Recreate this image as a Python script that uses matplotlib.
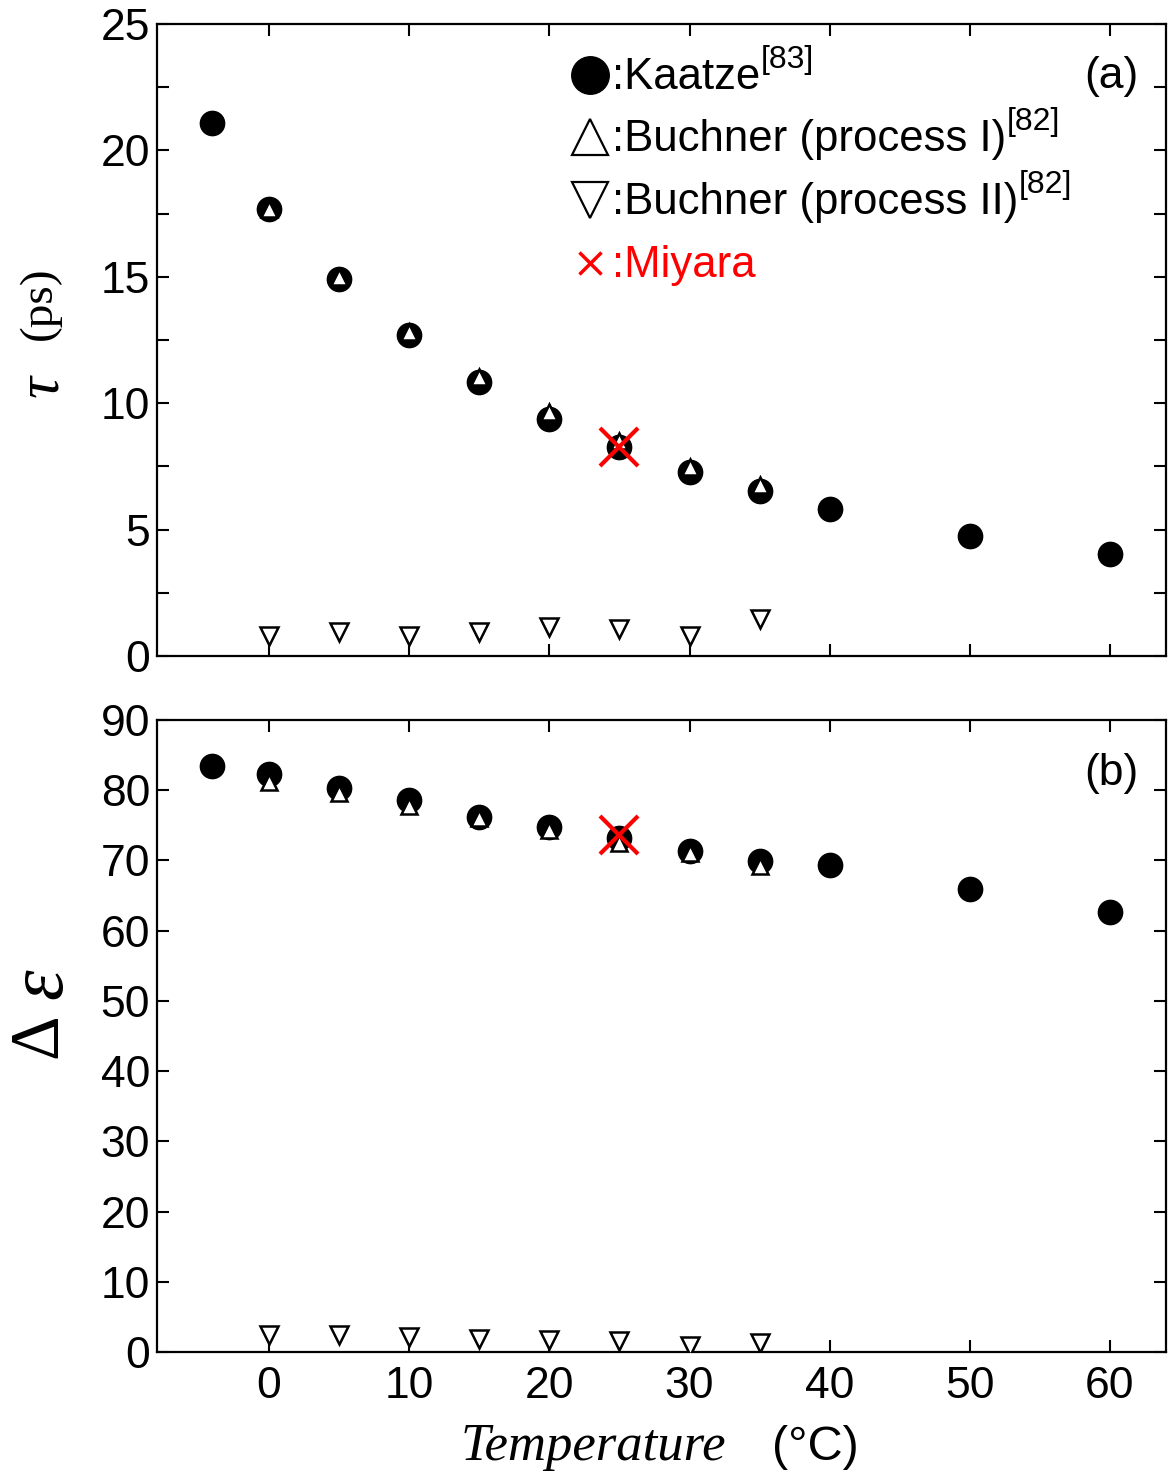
import matplotlib
matplotlib.use("Agg")
import matplotlib.pyplot as plt
import numpy as np

plt.rcParams['font.family'] = ['Liberation Sans', 'DejaVu Sans']

# ---------------- data ----------------
kaatze_T = [-4.1, 0, 5, 10, 15, 20, 25, 30, 35, 40, 50, 60]
kaatze_tau = [21.1, 17.68, 14.92, 12.68, 10.85, 9.38, 8.28, 7.29, 6.53, 5.82, 4.76, 4.05]
kaatze_de = [83.4, 82.3, 80.3, 78.6, 76.2, 74.8, 73.2, 71.3, 69.9, 69.4, 65.9, 62.7]

buch_T = [0, 5, 10, 15, 20, 25, 30, 35]
buch1_tau = [17.7, 15.0, 12.8, 11.05, 9.65, 8.5, 7.48, 6.78]
buch1_de = [81.2, 79.6, 77.8, 76.0, 74.3, 72.5, 71.1, 69.2]
buch2_tau = [0.78, 0.95, 0.8, 0.95, 1.15, 1.05, 0.8, 1.45]
buch2_de = [2.4, 2.4, 2.1, 1.9, 1.7, 1.5, 0.9, 1.3]

miyara_T = [25]
miyara_tau = [8.25]
miyara_de = [73.6]

xticks = [0, 10, 20, 30, 40, 50, 60]
tau_ticks = [0, 5, 10, 15, 20, 25]
de_ticks = [0, 10, 20, 30, 40, 50, 60, 70, 80, 90]

legend_main = [':Kaatze', ':Buchner (process I)', ':Buchner (process II)', ':Miyara']
legend_sup = ['[83]', '[82]', '[82]', '']
legend_colors = ['black', 'black', 'black', 'red']

# ---------------- figure ----------------
W, H = 1172, 1479
fig = plt.figure(figsize=(W / 100, H / 100), dpi=100)
L, R = 157 / W, 1166 / W
axA = fig.add_axes([L, 1 - 656 / H, R - L, 632 / H])
axB = fig.add_axes([L, 1 - 1352 / H, R - L, 632 / H])

FS = 32

def style(ax):
    for s in ax.spines.values():
        s.set_linewidth(1.6)
    ax.tick_params(which='both', direction='in', top=True, right=True,
                   length=8.5, width=1.5, labelsize=FS)
    ax.tick_params(axis='x', pad=10)
    ax.tick_params(axis='y', pad=5)
    ax.set_xlim(-8, 64)
    ax.set_xticks(xticks)

def draw(ax, y_k, y_b1, y_b2, y_m):
    ax.plot(kaatze_T, y_k, 'o', ms=17.5, color='black', mec='black', zorder=3)
    ax.plot(buch_T, y_b1, '^', ms=12, mfc='white', mec='black', mew=1.8, zorder=4)
    ax.plot(buch_T, y_b2, 'v', ms=13, mfc='white', mec='black', mew=1.8, zorder=4)
    ax.plot(miyara_T, y_m, 'x', ms=27, color='red', mew=3, zorder=5)

style(axA)
style(axB)
draw(axA, kaatze_tau, buch1_tau, buch2_tau, miyara_tau)
draw(axB, kaatze_de, buch1_de, buch2_de, miyara_de)

axA.set_ylim(0, 25)
axA.set_yticks(tau_ticks)
axA.set_yticks(np.arange(2.5, 25, 5.0), minor=True)
axA.tick_params(labelbottom=False)
axA.tick_params(axis='x', which='minor', bottom=False, top=False)

axB.set_ylim(0, 90)
axB.set_yticks(de_ticks)

# panel labels
axA.text(0.946, 0.899, '(a)', transform=axA.transAxes, ha='center', va='baseline', fontsize=FS)
axB.text(0.946, 0.897, '(b)', transform=axB.transAxes, ha='center', va='baseline', fontsize=FS)

# legend (drawn manually)
mx = 0.429
tx = 0.4505
axA.plot([mx], [0.919], 'o', ms=27, color='black', transform=axA.transAxes, clip_on=False)
axA.plot([mx], [0.821], '^', ms=26, mfc='white', mec='black', mew=1.6, transform=axA.transAxes, clip_on=False)
axA.plot([mx], [0.722], 'v', ms=26, mfc='white', mec='black', mew=1.6, transform=axA.transAxes, clip_on=False)
axA.plot([mx], [0.622], 'x', ms=16, color='red', mew=2.5, transform=axA.transAxes, clip_on=False)

baselines = [0.897, 0.799, 0.699, 0.600]
renderer = fig.canvas.get_renderer()
for main, sup, col, yb in zip(legend_main, legend_sup, legend_colors, baselines):
    t = axA.text(tx, yb, main, transform=axA.transAxes, fontsize=31.5, va='baseline', color=col)
    if sup:
        bb = t.get_window_extent(renderer=renderer)
        x_disp = bb.x1 + 1
        y_disp = axA.transAxes.transform((0, yb))[1] + 21
        xa, ya = axA.transAxes.inverted().transform((x_disp, y_disp))
        axA.text(xa, ya, sup, transform=axA.transAxes, fontsize=23, va='baseline', color=col)

# axis labels
fig.text(40 / W, 1 - 303 / H, '(ps)', rotation=90, ha='center', va='center',
         fontsize=34, family='Liberation Serif')
fig.text(42 / W, 1 - 386 / H, 'τ', rotation=90, ha='center', va='center',
         fontsize=44, family='Liberation Serif', style='italic')
fig.text(40 / W, 1 - 1036 / H, 'Δ', rotation=90, ha='center', va='center',
         fontsize=50, family='Liberation Serif')
fig.text(43 / W, 1 - 984 / H, 'ε', rotation=90, ha='center', va='center',
         fontsize=56, family='Liberation Serif', style='italic')
fig.text(593 / W, 1 - 1447 / H, 'Temperature', ha='center', va='center',
         fontsize=38, family='Liberation Serif', style='italic')
fig.text(815 / W, 1 - 1447 / H, '(°C)', ha='center', va='center', fontsize=35)

fig.savefig('out.png', dpi=100)
